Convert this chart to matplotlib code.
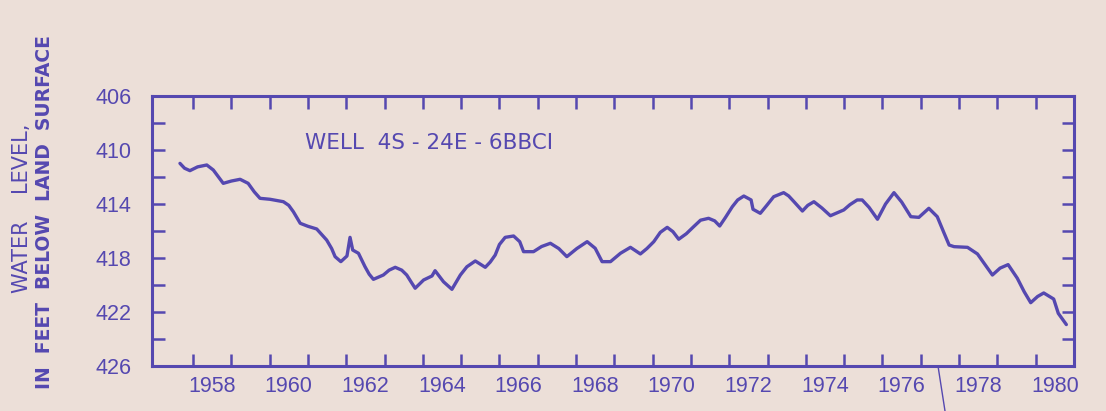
import matplotlib.pyplot as plt
from matplotlib.lines import Line2D
from matplotlib.ticker import FixedLocator, FuncFormatter

# hydrograph values (decimal year, feet below land surface)
years = [
    1957.66, 1957.78, 1957.92, 1958.12, 1958.36, 1958.53, 1958.79, 1959.00,
    1959.23, 1959.44, 1959.60, 1959.75, 1960.01, 1960.36, 1960.50, 1960.62,
    1960.80, 1961.00, 1961.23, 1961.49, 1961.62, 1961.71, 1961.86, 1962.02,
    1962.10, 1962.17, 1962.32, 1962.49, 1962.60, 1962.71, 1962.97, 1963.12,
    1963.28, 1963.45, 1963.58, 1963.70, 1963.80, 1964.02, 1964.24, 1964.32,
    1964.54, 1964.76, 1964.98, 1965.15, 1965.37, 1965.63, 1965.76, 1965.89,
    1966.00, 1966.15, 1966.37, 1966.53, 1966.63, 1966.89, 1967.10, 1967.33,
    1967.55, 1967.76, 1968.02, 1968.29, 1968.50, 1968.68, 1968.90, 1969.16,
    1969.42, 1969.68, 1969.85, 1970.03, 1970.20, 1970.38, 1970.53, 1970.68,
    1970.88, 1971.07, 1971.25, 1971.46, 1971.62, 1971.75, 1971.90, 1972.08,
    1972.22, 1972.38, 1972.57, 1972.62, 1972.81, 1972.98, 1973.16, 1973.42,
    1973.55, 1973.69, 1973.91, 1974.05, 1974.21, 1974.42, 1974.64, 1974.99,
    1975.15, 1975.34, 1975.47, 1975.65, 1975.87, 1976.08, 1976.30, 1976.50,
    1976.74, 1976.95, 1977.21, 1977.43, 1977.60, 1977.74, 1977.87, 1978.22,
    1978.48, 1978.68, 1978.87, 1979.07, 1979.28, 1979.52, 1979.70, 1979.87,
    1980.05, 1980.21, 1980.47, 1980.59, 1980.80,
]
levels = [
    410.99, 411.35, 411.53, 411.25, 411.11, 411.48, 412.47, 412.30,
    412.17, 412.47, 413.10, 413.58, 413.65, 413.83, 414.10, 414.57,
    415.43, 415.65, 415.85, 416.67, 417.30, 417.90, 418.27, 417.85,
    416.47, 417.41, 417.65, 418.64, 419.20, 419.58, 419.26, 418.90,
    418.69, 418.90, 419.26, 419.80, 420.24, 419.63, 419.33, 418.94,
    419.76, 420.32, 419.26, 418.65, 418.22, 418.69, 418.30, 417.78,
    417.00, 416.47, 416.37, 416.79, 417.53, 417.53, 417.15, 416.91,
    417.30, 417.90, 417.30, 416.79, 417.28, 418.27, 418.27, 417.65,
    417.21, 417.70, 417.30, 416.79, 416.10, 415.73, 416.05, 416.61,
    416.20, 415.68, 415.20, 415.06, 415.25, 415.63, 415.00, 414.20,
    413.70, 413.41, 413.70, 414.39, 414.69, 414.10, 413.46, 413.16,
    413.40, 413.83, 414.52, 414.10, 413.83, 414.30, 414.87, 414.44,
    414.05, 413.70, 413.70, 414.25, 415.13, 414.00, 413.16, 413.85,
    414.94, 414.99, 414.32, 414.94, 416.10, 417.04, 417.16, 417.21,
    417.70, 418.50, 419.26, 418.75, 418.49, 419.50, 420.50, 421.31,
    420.85, 420.59, 421.04, 422.10, 422.93,
]

year_ticks = list(range(1958, 1981))
year_labels = [str(y) for y in range(1958, 1981, 2)]
depth_ticks = list(range(406, 427, 2))
depth_labels = [406, 410, 414, 418, 422, 426]

ink = "#5548b0"
paper = "#ecdfd8"

fig = plt.figure(figsize=(11.06, 4.11), dpi=100, facecolor=paper)
ax = fig.add_axes([152 / 1106, 1 - 366 / 411, 922 / 1106, 270 / 411])
ax.set_facecolor(paper)

ax.plot(years, levels, color=ink, lw=2.4, solid_joinstyle="round",
        solid_capstyle="round")

ax.set_xlim(1956.93, 1981.0)
ax.set_ylim(426, 406)

# year ticks on the boundaries, labels centred in the year
ax.xaxis.set_major_locator(FixedLocator(year_ticks))
ax.xaxis.set_major_formatter(FuncFormatter(lambda v, p: ""))
ax.xaxis.set_minor_locator(FixedLocator([int(s) + 0.5 for s in year_labels]))
ax.xaxis.set_minor_formatter(FuncFormatter(lambda v, p: str(int(v))))
ax.tick_params(axis="x", which="major", direction="in", length=9, width=1.8,
               color=ink, top=True, bottom=True)
ax.tick_params(axis="x", which="minor", length=0, pad=7, labelsize=15.5,
               labelcolor=ink)

ax.yaxis.set_major_locator(FixedLocator(depth_ticks))
ax.yaxis.set_major_formatter(
    FuncFormatter(lambda v, p: str(int(v)) if int(round(v)) in depth_labels else ""))
ax.tick_params(axis="y", direction="in", length=9, width=1.8, color=ink,
               left=True, right=True, pad=15, labelsize=15.5, labelcolor=ink)

for lab in ax.get_xticklabels(minor=True) + ax.get_yticklabels():
    lab.set_family(["Liberation Sans", "DejaVu Sans"])

for sp in ax.spines.values():
    sp.set_color(ink)
    sp.set_linewidth(2.2)

ax.text(1958.0 + (305 - 193) / 38.27, 406 + (143 - 96) / 13.5,
        "WELL  4S - 24E - 6BBCI", color=ink, fontsize=15.5, va="center",
        ha="left", family="DejaVu Sans")

fig.text(22 / 1106, 1 - 208 / 411, "WATER    LEVEL,", rotation=90, color=ink,
         fontsize=15, ha="center", va="center", family="DejaVu Sans")
fig.text(45 / 1106, 1 - 212 / 411, "IN  FEET  BELOW  LAND  SURFACE",
         rotation=90, color=ink, fontsize=13.5, ha="center", va="center",
         family="DejaVu Sans", weight="bold")

# leader line running off the bottom of the sheet
fig.add_artist(Line2D([938 / 1106, 945 / 1106], [1 - 366 / 411, 0],
                      transform=fig.transFigure, color=ink, lw=1.0))

fig.savefig("out.png", dpi=100, facecolor=paper)
